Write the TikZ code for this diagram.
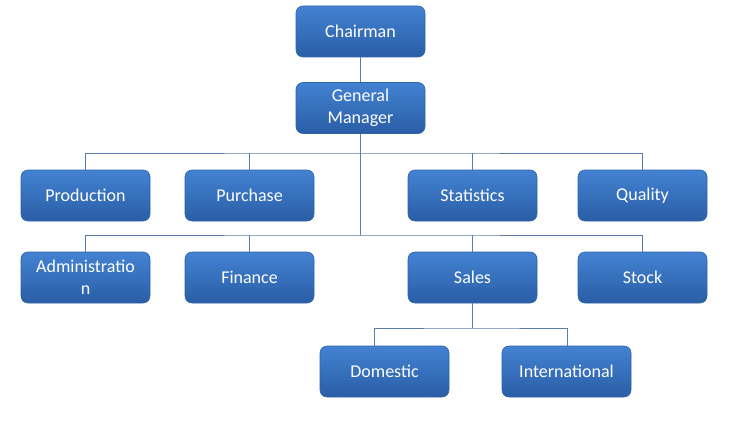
\documentclass[tikz,border=0pt]{standalone}
\usepackage{fontspec}
\setmainfont{Carlito}
\definecolor{boxtop}{HTML}{4382D2}
\definecolor{boxbot}{HTML}{2A5EA6}
\definecolor{boxedge}{HTML}{2F63A8}
\definecolor{linec}{HTML}{5A7DAA}
\begin{document}
\begin{tikzpicture}[x=1pt,y=-1pt,
  unit/.style={rectangle, rounded corners=7pt, minimum width=129pt, minimum height=51pt,
    top color=boxtop, bottom color=boxbot, draw=boxedge, line width=0.6pt,
    text=white, font=\fontsize{18}{22}\selectfont, align=center, inner sep=2pt},
  link/.style={draw=linec, line width=1pt}]
\useasboundingbox[fill=white] (0,0) rectangle (743,425);
\node[unit] (chair) at (360.5,31.5) {Chairman};
\node[unit] (gm) at (360.5,108) {General\\Manager};
\node[unit] (prod) at (85.5,195.5) {Production};
\node[unit] (purch) at (249.5,195.5) {Purchase};
\node[unit] (stat) at (472.5,195.5) {Statistics};
\node[unit] (qual) at (642.5,195.5) {Quality};
\node[unit] (admin) at (85.5,277.5) {Administratio\\n};
\node[unit] (fin) at (249.5,277.5) {Finance};
\node[unit] (sales) at (472.5,277.5) {Sales};
\node[unit] (stock) at (642.5,277.5) {Stock};
\node[unit] (dom) at (384.5,371.5) {Domestic};
\node[unit] (intl) at (566.5,371.5) {International};
\coordinate (b1) at (360.5,153);
\coordinate (b2) at (360.5,235);
\coordinate (b3) at (472.5,328);
\coordinate (dtop) at (374,346);
\coordinate (itop) at (567,346);
\draw[link] (chair) -- (gm);
\draw[link] (gm.south) -- (b2);
\draw[link] (prod.north) |- (b1) -| (qual.north);
\draw[link] (purch.north) -- (purch.north |- b1);
\draw[link] (stat.north) -- (stat.north |- b1);
\draw[link] (admin.north) |- (b2) -| (stock.north);
\draw[link] (fin.north) -- (fin.north |- b2);
\draw[link] (sales.north) -- (sales.north |- b2);
\draw[link] (sales.south) -- (b3);
\draw[link] (dtop) |- (b3) -| (itop);
\end{tikzpicture}
\end{document}
